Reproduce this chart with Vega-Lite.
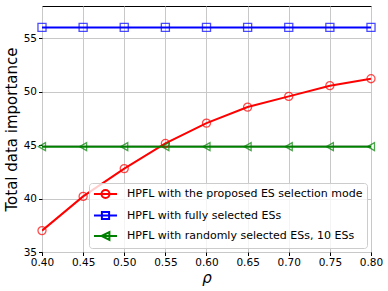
{
  "$schema": "https://vega.github.io/schema/vega-lite/v6.json",
  "width": 329,
  "height": 246,
  "autosize": {"type": "none"},
  "padding": {"left": 42, "top": 6, "right": 17, "bottom": 39},
  "background": "white",
  "config": {
    "view": {"stroke": "black", "strokeWidth": 1},
    "font": "DejaVu Sans",
    "axis": {
      "domain": false,
      "grid": true,
      "gridColor": "#c8c8c8",
      "gridWidth": 1,
      "tickColor": "black",
      "tickSize": 3.5,
      "labelColor": "black",
      "labelFont": "DejaVu Sans",
      "labelFontSize": 10.5,
      "labelPadding": 2,
      "labelFlush": false,
      "titleFont": "DejaVu Sans",
      "titleFontSize": 15,
      "titleFontWeight": "normal",
      "titleColor": "black"
    }
  },
  "data": {
    "values": [
      {"series": "HPFL with the proposed ES selection mode", "rho": 0.40, "value": 37.0},
      {"series": "HPFL with the proposed ES selection mode", "rho": 0.45, "value": 40.2},
      {"series": "HPFL with the proposed ES selection mode", "rho": 0.50, "value": 42.8},
      {"series": "HPFL with the proposed ES selection mode", "rho": 0.55, "value": 45.15},
      {"series": "HPFL with the proposed ES selection mode", "rho": 0.60, "value": 47.05},
      {"series": "HPFL with the proposed ES selection mode", "rho": 0.65, "value": 48.55},
      {"series": "HPFL with the proposed ES selection mode", "rho": 0.70, "value": 49.55},
      {"series": "HPFL with the proposed ES selection mode", "rho": 0.75, "value": 50.55},
      {"series": "HPFL with the proposed ES selection mode", "rho": 0.80, "value": 51.2},
      {"series": "HPFL with fully selected ESs", "rho": 0.40, "value": 56.0},
      {"series": "HPFL with fully selected ESs", "rho": 0.45, "value": 56.0},
      {"series": "HPFL with fully selected ESs", "rho": 0.50, "value": 56.0},
      {"series": "HPFL with fully selected ESs", "rho": 0.55, "value": 56.0},
      {"series": "HPFL with fully selected ESs", "rho": 0.60, "value": 56.0},
      {"series": "HPFL with fully selected ESs", "rho": 0.65, "value": 56.0},
      {"series": "HPFL with fully selected ESs", "rho": 0.70, "value": 56.0},
      {"series": "HPFL with fully selected ESs", "rho": 0.75, "value": 56.0},
      {"series": "HPFL with fully selected ESs", "rho": 0.80, "value": 56.0},
      {"series": "HPFL with randomly selected ESs, 10 ESs", "rho": 0.40, "value": 44.85},
      {"series": "HPFL with randomly selected ESs, 10 ESs", "rho": 0.45, "value": 44.85},
      {"series": "HPFL with randomly selected ESs, 10 ESs", "rho": 0.50, "value": 44.85},
      {"series": "HPFL with randomly selected ESs, 10 ESs", "rho": 0.55, "value": 44.85},
      {"series": "HPFL with randomly selected ESs, 10 ESs", "rho": 0.60, "value": 44.85},
      {"series": "HPFL with randomly selected ESs, 10 ESs", "rho": 0.65, "value": 44.85},
      {"series": "HPFL with randomly selected ESs, 10 ESs", "rho": 0.70, "value": 44.85},
      {"series": "HPFL with randomly selected ESs, 10 ESs", "rho": 0.75, "value": 44.85},
      {"series": "HPFL with randomly selected ESs, 10 ESs", "rho": 0.80, "value": 44.85}
    ]
  },
  "encoding": {
    "x": {
      "field": "rho", "type": "quantitative",
      "scale": {"domain": [0.4, 0.8], "nice": false, "zero": false},
      "axis": {"values": [0.4, 0.45, 0.5, 0.55, 0.6, 0.65, 0.7, 0.75, 0.8], "format": ".2f", "title": "ρ", "titleFontStyle": "italic", "titlePadding": 2}
    },
    "y": {
      "field": "value", "type": "quantitative",
      "scale": {"domain": [35, 58], "nice": false, "zero": false},
      "axis": {"values": [35, 40, 45, 50, 55], "title": "Total data importance", "titlePadding": 4}
    },
    "color": {
      "field": "series", "type": "nominal",
      "scale": {
        "domain": ["HPFL with the proposed ES selection mode", "HPFL with fully selected ESs", "HPFL with randomly selected ESs, 10 ESs"],
        "range": ["#ff0000", "#0000ff", "#008000"]
      },
      "legend": {
        "title": null,
        "orient": "bottom-right",
        "offset": 4,
        "labelFont": "DejaVu Sans",
        "labelFontSize": 11,
        "labelColor": "black",
        "labelLimit": 400,
        "symbolSize": 144,
        "symbolStrokeWidth": 2,
        "symbolFillColor": "transparent",
        "symbolOffset": 5.5,
        "rowPadding": 4.5,
        "labelOffset": 14.5,
        "padding": 4,
        "fillColor": "rgba(255,255,255,0.8)",
        "strokeColor": "#cccccc",
        "cornerRadius": 3,
        "encode": {
          "symbols": {
            "update": {
              "shape": {"signal": "datum.value == 'HPFL with the proposed ES selection mode' ? 'M-1.92,0H1.92M-0.67,0A0.67,0.67 0 1,0 0.67,0A0.67,0.67 0 1,0 -0.67,0' : (datum.value == 'HPFL with fully selected ESs' ? 'M-1.92,0H1.92M-0.6,-0.6H0.6V0.6H-0.6Z' : 'M-1.92,0H1.92M-0.65,0L0.65,-0.65L0.65,0.65Z')"},
              "fill": {"value": "transparent"},
              "strokeWidth": {"value": 2}
            }
          }
        }
      }
    }
  },
  "layer": [
    {
      "mark": {"type": "line", "strokeWidth": 2, "clip": true}
    },
    {
      "transform": [{"filter": "datum.series == 'HPFL with the proposed ES selection mode'"}],
      "mark": {"type": "point", "shape": "circle", "filled": false, "strokeWidth": 1.3, "size": 65}
    },
    {
      "transform": [{"filter": "datum.series == 'HPFL with fully selected ESs'"}],
      "mark": {"type": "point", "shape": "square", "filled": false, "strokeWidth": 1.3, "size": 65}
    },
    {
      "transform": [{"filter": "datum.series == 'HPFL with randomly selected ESs, 10 ESs'"}],
      "mark": {"type": "point", "shape": "triangle-left", "filled": false, "strokeWidth": 1.3, "size": 65}
    }
  ]
}
